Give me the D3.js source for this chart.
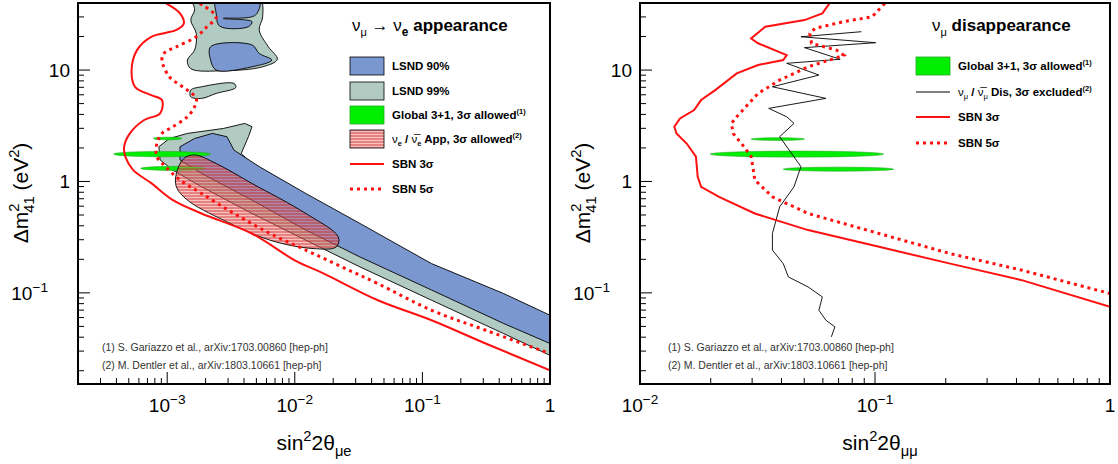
<!DOCTYPE html>
<html>
<head>
<meta charset="UTF-8">
<script src="https://d3js.org/d3.v7.min.js"></script>
<style>
  body { margin: 0; background: white; font-family: "Liberation Sans", Arial, sans-serif; }
  text { font-family: "Liberation Sans", Arial, sans-serif; }
</style>
</head>
<body>
<svg width="1118" height="464"></svg>
<script>
// ---------- left panel: nu_mu -> nu_e appearance ----------
const appSbn3 = [[9.8e-4,39.7],[1.26e-3,32.3],[1.35e-3,26.2],[1.18e-3,22.9],[7.5e-4,19.9],[5.8e-4,15.1],[5.26e-4,10],[5.6e-4,7.08],[7.5e-4,5.96],[9.1e-4,5.38],[8.8e-4,4.09],[6.6e-4,3.56],[5.1e-4,2.7],[4.6e-4,2.05],[4.7e-4,1.67],[5.4e-4,1.27],[7.5e-4,0.966],[1.11e-3,0.68],[1.86e-3,0.516],[4.6e-3,0.341],[0.01,0.196],[0.0169,0.149],[0.0448,0.0859],[0.118,0.0568],[0.313,0.0351],[1.0,0.0202]];
const appSbn5 = [[1.8e-3,39.7],[2.42e-3,30.1],[2.05e-3,24.5],[1.69e-3,19.9],[1.18e-3,16.2],[9.4e-4,14.1],[9.1e-4,12.3],[1.04e-3,8.71],[1.44e-3,6.61],[1.69e-3,5.57],[1.64e-3,4.69],[1.44e-3,3.81],[1.11e-3,3.1],[9.1e-4,2.7],[8.3e-4,2.19],[8.3e-4,1.67],[9.7e-4,1.36],[1.26e-3,1.03],[1.86e-3,0.78],[3.34e-3,0.516],[6.4e-3,0.341],[0.0122,0.242],[0.0234,0.171],[0.0448,0.121],[0.118,0.0698],[0.313,0.0462],[1.0,0.0285]];
const lsnd99Main = [[8.6e-4,2.05],[1.04e-3,2.43],[1.44e-3,2.7],[2.75e-3,2.99],[4.06e-3,3.32],[4.62e-3,3.1],[4.33e-3,2.52],[3.8e-3,1.78],[5.26e-3,1.26],[0.0122,0.68],[0.0324,0.341],[0.118,0.149],[0.433,0.0748],[1.0,0.0589],[1.0,0.0275],[0.433,0.0431],[0.118,0.0859],[0.0324,0.171],[0.0122,0.297],[4.62e-3,0.516],[1.86e-3,0.895],[1.11e-3,1.26],[8.8e-4,1.56]];
const lsnd99Top = [[1.58e-3,45],[5.26e-3,45],[5.6e-3,30.1],[5.26e-3,22.9],[6.2e-3,16.2],[7.3e-3,12.5],[5.6e-3,10.7],[2.75e-3,9.86],[1.53e-3,10.3],[1.44e-3,12.3],[1.64e-3,15.1],[1.69e-3,21.3],[1.53e-3,28.1],[1.64e-3,34.6]];
const lsnd99Island = [[1.53e-3,6.61],[1.86e-3,7.08],[3.34e-3,7.59],[3.45e-3,6.98],[2.42e-3,6.17],[1.86e-3,5.57],[1.53e-3,5.75]];
const lsnd90Main = [[1.26e-3,2.05],[1.64e-3,2.43],[2.26e-3,2.7],[2.94e-3,2.52],[3.34e-3,1.91],[5.26e-3,1.36],[0.0122,0.78],[0.0324,0.42],[0.118,0.183],[0.433,0.0986],[1.0,0.063],[1.0,0.0351],[0.433,0.0531],[0.118,0.106],[0.0324,0.21],[0.0122,0.366],[4.62e-3,0.68],[1.86e-3,1.18],[1.26e-3,1.56]];
const lsnd90Mid = [[2.19e-3,16.2],[4.62e-3,16.8],[5.26e-3,14.1],[6.6e-3,12.3],[4.62e-3,10.7],[2.42e-3,10],[2.19e-3,12.3]];
const lsnd90Top = [[2.42e-3,45],[5.26e-3,45],[4.93e-3,31.2],[2.75e-3,29.1],[4.62e-3,27.2],[4.33e-3,24.5],[2.58e-3,24.8],[2.42e-3,32.3]];
const appNue = [[1.18e-3,1.18],[1.35e-3,1.61],[1.64e-3,1.73],[2.42e-3,1.45],[4.62e-3,0.96],[0.0122,0.516],[0.0219,0.318],[0.0212,0.259],[0.0139,0.25],[6.4e-3,0.297],[2.75e-3,0.45],[1.44e-3,0.68],[1.18e-3,0.895]];
// global 3+1 islands: [xmin, xmax, y centre, half-height in decades]
const appGlobal = [[7.8e-4,1.30e-3,2.43,0.012],[3.8e-4,2.19e-3,1.76,0.024],[6.2e-4,1.99e-3,1.31,0.018]];

// ---------- right panel: nu_mu disappearance ----------
const disSbn3 = [[0.064,39.7],[0.0597,32.3],[0.0501,28.1],[0.0341,24.5],[0.0297,19.2],[0.0318,17.4],[0.0421,13.6],[0.0407,12.3],[0.0318,11.1],[0.0258,9.33],[0.0209,6.61],[0.0182,5.38],[0.017,4.38],[0.0148,3.68],[0.014,3.1],[0.0143,2.7],[0.0158,2.19],[0.0173,1.67],[0.0176,1.1],[0.0182,0.895],[0.0217,0.728],[0.0308,0.516],[0.0519,0.366],[0.104,0.259],[0.209,0.183],[0.421,0.13],[1.0,0.0748]];
const disSbn5 = [[0.11,39.7],[0.0973,30.1],[0.0736,27.2],[0.0556,23.7],[0.0528,21.3],[0.0537,17.4],[0.0686,15.1],[0.0736,13.6],[0.064,12.3],[0.0519,10.7],[0.0393,8.13],[0.0318,6.17],[0.0258,3.81],[0.0245,3.32],[0.0249,2.7],[0.0277,2.05],[0.0297,1.67],[0.0302,1.36],[0.0308,1.03],[0.0366,0.728],[0.0519,0.516],[0.104,0.341],[0.209,0.225],[0.421,0.16],[1.0,0.0986]];
const disNumu = [[0.0875,22.1],[0.0484,19.9],[0.1007,17.6],[0.0501,15.9],[0.0711,12.5],[0.0421,11.5],[0.0577,9.02],[0.0366,7.08],[0.0618,5.57],[0.0353,4.53],[0.0421,3.81],[0.0452,3.32],[0.0393,2.52],[0.0484,1.36],[0.0452,0.895],[0.0393,0.592],[0.0366,0.341],[0.0366,0.242],[0.0407,0.183],[0.0428,0.139],[0.0519,0.113],[0.0597,0.092],[0.0577,0.0698],[0.0618,0.0568],[0.0675,0.0495],[0.0652,0.0403]];
const disGlobal = [[0.0297,0.0501,2.40,0.012],[0.0199,0.1087,1.76,0.027],[0.0407,0.120,1.29,0.018]];

const yDomain = [0.0152, 40];
const refs = ["(1) S. Gariazzo et al., arXiv:1703.00860 [hep-ph]", "(2) M. Dentler et al., arXiv:1803.10661 [hep-ph]"];

const svg = d3.select("svg");
const defs = svg.append("defs");
const pat = defs.append("pattern").attr("id", "hatch").attr("patternUnits", "userSpaceOnUse")
  .attr("width", 4).attr("height", 3);
pat.append("rect").attr("width", 4).attr("height", 3).attr("fill", "rgba(235,120,120,0.45)");
pat.append("line").attr("x1", 0).attr("x2", 4).attr("y1", 1).attr("y2", 1)
  .attr("stroke", "rgba(200,20,20,0.75)").attr("stroke-width", 1);

const BLUE = "#7b97cf", GREY = "#b1cac2", GREEN = "#00ee00", RED = "#ff1010";

function sup(sel, base, exp) {
  sel.append("tspan").text(base);
  if (exp) sel.append("tspan").attr("dy", -8).attr("font-size", "0.72em").text(exp);
}

function panel(id, x0, x1, xDomain, xTicks) {
  const top = 3, bottom = 384;
  const x = d3.scaleLog().domain(xDomain).range([x0, x1]);
  const y = d3.scaleLog().domain(yDomain).range([bottom, top]);
  defs.append("clipPath").attr("id", id).append("rect")
    .attr("x", x0).attr("y", top).attr("width", x1 - x0).attr("height", bottom - top);
  const g = svg.append("g");
  const plot = g.append("g").attr("clip-path", `url(#${id})`);
  const line = d3.line().x(d => x(d[0])).y(d => y(d[1]));
  const band = d3.line().x(d => x(d[0])).y(d => y(d[1])).curve(d3.curveLinearClosed);
  const area = d3.line().x(d => x(d[0])).y(d => y(d[1])).curve(d3.curveCatmullRomClosed.alpha(0.5));
  const open = d3.line().x(d => x(d[0])).y(d => y(d[1])).curve(d3.curveCatmullRom.alpha(0.5));

  // ticks
  const ax = g.append("g").attr("stroke", "black").attr("stroke-width", 1);
  x.ticks().forEach(v => {
    const major = Math.abs(Math.log10(v) - Math.round(Math.log10(v))) < 1e-6;
    ax.append("line").attr("x1", x(v)).attr("x2", x(v)).attr("y1", bottom).attr("y2", bottom - (major ? 12 : 6));
  });
  y.ticks().forEach(v => {
    const major = Math.abs(Math.log10(v) - Math.round(Math.log10(v))) < 1e-6;
    ax.append("line").attr("y1", y(v)).attr("y2", y(v)).attr("x1", x0).attr("x2", x0 + (major ? 12 : 6));
  });
  xTicks.forEach(t => {
    const tx = g.append("text").attr("x", x(t[0])).attr("y", 412).attr("text-anchor", "middle")
      .attr("font-size", 19);
    sup(tx, t[1], t[2]);
  });
  [[10, "10", ""], [1, "1", ""], [0.1, "10", "\u22121"]].forEach(t => {
    const ty = g.append("text").attr("x", x0 - 8).attr("y", y(t[0]) + 7).attr("text-anchor", "end")
      .attr("font-size", 19);
    if (t[2]) { ty.attr("x", x0 - 30); sup(ty, t[1], t[2]); } else ty.text(t[1]);
  });
  const yt = g.append("text").attr("transform", `translate(${x0 - 50},193) rotate(-90)`)
    .attr("text-anchor", "middle").attr("font-size", 21);
  yt.append("tspan").text("\u0394m");
  yt.append("tspan").attr("dy", -9).attr("font-size", "0.7em").text("2");
  yt.append("tspan").attr("dx", -9).attr("dy", 15).attr("font-size", "0.7em").text("41");
  yt.append("tspan").attr("dy", -6).text(" (eV");
  yt.append("tspan").attr("dy", -9).attr("font-size", "0.7em").text("2");
  yt.append("tspan").attr("dy", 9).text(")");
  // footnotes
  refs.forEach((r, i) => g.append("text").attr("x", x0 + 24 + (id === "cR" ? 4 : 0)).attr("y", 351 + i * 18)
    .attr("font-size", 10.5).attr("fill", "#333").text(r));
  return { g, plot, x, y, line, band, area, open, x0, x1, top, bottom };
}

function ellipses(p, list) {
  list.forEach(e => {
    const xa = p.x(e[0]), xb = p.x(e[1]);
    const yc = p.y(e[2]), ry = p.y(e[2]) - p.y(e[2] * Math.pow(10, e[3]));
    p.plot.append("ellipse").attr("cx", (xa + xb) / 2).attr("cy", yc).attr("rx", (xb - xa) / 2).attr("ry", ry)
      .attr("fill", GREEN).attr("stroke", "#22aa22").attr("stroke-width", 0.6);
  });
}

// ---- left ----
const L = panel("cL", 78, 550, [2e-4, 1], [[1e-3, "10", "\u22123"], [1e-2, "10", "\u22122"], [1e-1, "10", "\u22121"], [1, "1", ""]]);
L.plot.append("path").attr("d", L.band(lsnd99Main)).attr("fill", GREY).attr("stroke", "black").attr("stroke-width", 0.9).attr("stroke-linejoin", "round");
[lsnd99Top, lsnd99Island].forEach(d =>
  L.plot.append("path").attr("d", L.area(d)).attr("fill", GREY).attr("stroke", "black").attr("stroke-width", 0.9));
L.plot.append("path").attr("d", L.band(lsnd90Main)).attr("fill", BLUE).attr("stroke", "black").attr("stroke-width", 0.9).attr("stroke-linejoin", "round");
[lsnd90Mid, lsnd90Top].forEach(d =>
  L.plot.append("path").attr("d", L.area(d)).attr("fill", BLUE).attr("stroke", "black").attr("stroke-width", 0.9));
ellipses(L, appGlobal);
L.plot.append("path").attr("d", L.area(appNue)).attr("fill", "url(#hatch)").attr("stroke", "black").attr("stroke-width", 0.9);
L.plot.append("path").attr("d", L.open(appSbn3)).attr("fill", "none").attr("stroke", RED).attr("stroke-width", 2);
L.plot.append("path").attr("d", L.open(appSbn5)).attr("fill", "none").attr("stroke", RED).attr("stroke-width", 3).attr("stroke-dasharray", "3,4");
const xtL = L.g.append("text").attr("x", 314).attr("y", 450).attr("text-anchor", "middle").attr("font-size", 21);
xtL.append("tspan").text("sin"); xtL.append("tspan").attr("dy", -9).attr("font-size", "0.7em").text("2");
xtL.append("tspan").attr("dy", 9).text("2\u03b8"); xtL.append("tspan").attr("dy", 6).attr("font-size", "0.7em").text("\u03bce");

// legend left
const tL = L.g.append("text").attr("x", 352).attr("y", 31).attr("font-size", 17).attr("font-weight", "bold");
tL.append("tspan").attr("font-weight", "normal").text("\u03bd");
tL.append("tspan").attr("dy", 5).attr("font-size", "0.65em").attr("font-weight", "normal").text("\u03bc");
tL.append("tspan").attr("dy", -5).attr("font-weight", "normal").text(" \u2192 \u03bd");
tL.append("tspan").attr("dy", 5).attr("font-size", "0.7em").text("e");
tL.append("tspan").attr("dy", -5).text("  appearance");

function legend(g, x, yc, kind, color, label) {
  if (kind === "box") g.append("rect").attr("x", x).attr("y", yc - 9).attr("width", 34).attr("height", 18)
    .attr("fill", color).attr("stroke", color === GREEN ? "#22aa22" : "black").attr("stroke-width", 0.8);
  if (kind === "line") g.append("line").attr("x1", x).attr("x2", x + 34).attr("y1", yc).attr("y2", yc)
    .attr("stroke", color).attr("stroke-width", color === RED ? 2 : 1);
  if (kind === "dash") g.append("line").attr("x1", x).attr("x2", x + 34).attr("y1", yc).attr("y2", yc)
    .attr("stroke", color).attr("stroke-width", 3).attr("stroke-dasharray", "3,4");
  const t = g.append("text").attr("x", x + 42).attr("y", yc + 4).attr("font-size", 11.5).attr("font-weight", "bold");
  label.forEach(s => {
    const sp = t.append("tspan").text(s.t);
    if (s.sup) sp.attr("dy", -5).attr("font-size", "0.65em");
    if (s.sub) sp.attr("dy", 3).attr("font-size", "0.65em");
    if (s.back) sp.attr("dy", s.back);
    if (s.n) sp.attr("font-weight", "normal");
  });
}
legend(L.g, 350, 66, "box", BLUE, [{ t: "LSND 90%" }]);
legend(L.g, 350, 91, "box", GREY, [{ t: "LSND 99%" }]);
legend(L.g, 350, 115, "box", GREEN, [{ t: "Global 3+1, 3\u03c3 allowed" }, { t: "(1)", sup: 1 }]);
legend(L.g, 350, 139, "box", "url(#hatch)", [{ t: "\u03bd", n: 1 }, { t: "e", sub: 1 }, { t: " / ", back: -3 }, { t: "\u03bd\u0305", n: 1 }, { t: "e", sub: 1 }, { t: " App, 3\u03c3 allowed", back: -3 }, { t: "(2)", sup: 1 }]);
legend(L.g, 350, 164, "line", RED, [{ t: "SBN 3\u03c3" }]);
legend(L.g, 350, 189, "dash", RED, [{ t: "SBN 5\u03c3" }]);

// ---- right ----
const R = panel("cR", 640, 1110, [0.01, 1], [[1e-2, "10", "\u22122"], [1e-1, "10", "\u22121"], [1, "1", ""]]);
ellipses(R, disGlobal);
R.plot.append("path").attr("d", R.line(disNumu)).attr("fill", "none").attr("stroke", "black").attr("stroke-width", 0.9);
R.plot.append("path").attr("d", R.line(disSbn3)).attr("fill", "none").attr("stroke", RED).attr("stroke-width", 2);
R.plot.append("path").attr("d", R.line(disSbn5)).attr("fill", "none").attr("stroke", RED).attr("stroke-width", 3).attr("stroke-dasharray", "3,4");
const xtR = R.g.append("text").attr("x", 880).attr("y", 450).attr("text-anchor", "middle").attr("font-size", 21);
xtR.append("tspan").text("sin"); xtR.append("tspan").attr("dy", -9).attr("font-size", "0.7em").text("2");
xtR.append("tspan").attr("dy", 9).text("2\u03b8"); xtR.append("tspan").attr("dy", 6).attr("font-size", "0.7em").text("\u03bc\u03bc");
const tR = R.g.append("text").attr("x", 932).attr("y", 31).attr("font-size", 17).attr("font-weight", "bold");
tR.append("tspan").attr("font-weight", "normal").text("\u03bd");
tR.append("tspan").attr("dy", 5).attr("font-size", "0.65em").attr("font-weight", "normal").text("\u03bc");
tR.append("tspan").attr("dy", -5).text(" disappearance");
legend(R.g, 916, 66, "box", GREEN, [{ t: "Global 3+1, 3\u03c3 allowed" }, { t: "(1)", sup: 1 }]);
legend(R.g, 916, 92, "line", "black", [{ t: "\u03bd", n: 1 }, { t: "\u03bc", sub: 1, n: 1 }, { t: " / ", back: -3 }, { t: "\u03bd\u0305", n: 1 }, { t: "\u03bc", sub: 1, n: 1 }, { t: " Dis, 3\u03c3 excluded", back: -3 }, { t: "(2)", sup: 1 }]);
legend(R.g, 916, 117, "line", RED, [{ t: "SBN 3\u03c3" }]);
legend(R.g, 916, 143, "dash", RED, [{ t: "SBN 5\u03c3" }]);

// frames on top
[L, R].forEach(p => p.g.append("rect").attr("x", p.x0).attr("y", p.top).attr("width", p.x1 - p.x0)
  .attr("height", p.bottom - p.top).attr("fill", "none").attr("stroke", "black").attr("stroke-width", 2));
</script>
</body>
</html>
